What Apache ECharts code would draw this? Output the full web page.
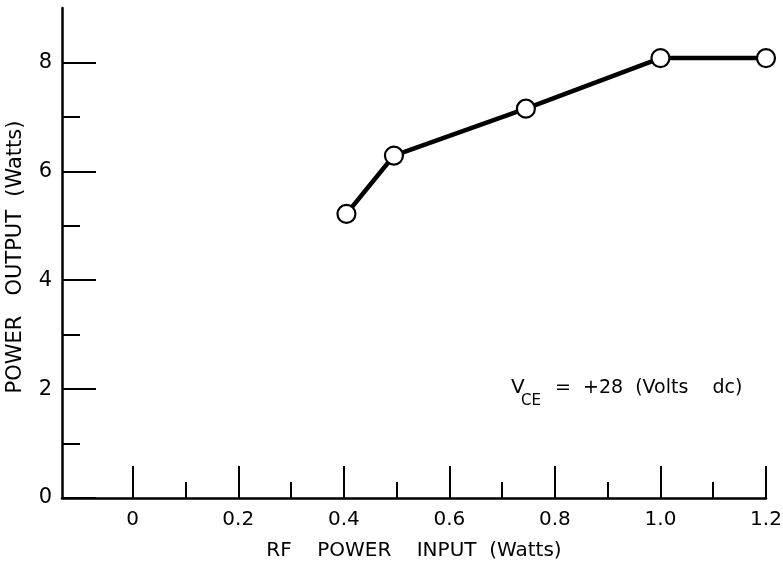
<!DOCTYPE html>
<html><head><meta charset="utf-8">
<script src="https://cdn.jsdelivr.net/npm/echarts@6/dist/echarts.min.js"></script>
<style>html,body{margin:0;padding:0;background:#fff}#c{width:783px;height:568px}</style>
</head><body><div id="c"></div>
<script>
const xValues = [0.405, 0.495, 0.745, 1.0, 1.2];
const yValues = [5.22, 6.29, 7.15, 8.08, 8.08];
const xMajorTicks = [0, 0.2, 0.4, 0.6, 0.8, 1.0, 1.2];
const xMinorTicks = [0.1, 0.3, 0.5, 0.7, 0.9, 1.1];
const xTickLabels = ['0', '0.2', '0.4', '0.6', '0.8', '1.0', '1.2'];
const yMajorTicks = [0, 2, 4, 6, 8];
const yMinorTicks = [1, 3, 5, 7];
const yTickLabels = ['0', '2', '4', '6', '8'];
const xName = 'RF    POWER    INPUT  (Watts)';
const yName = 'POWER   OUTPUT  (Watts)';

const FONT = 'DejaVu Sans';
const INK = '#000';
const chart = echarts.init(document.getElementById('c'), null, {renderer: 'canvas'});
const xMin = -0.134, xMax = 1.2, yMin = 0, yMax = 9;

function labelFor(ticks, labels) {
  return function (v) {
    for (let i = 0; i < ticks.length; i++) if (Math.abs(ticks[i] - v) < 1e-6) return labels[i];
    return '';
  };
}

chart.setOption({
  animation: false,
  backgroundColor: '#fff',
  grid: {left: 62, right: 17, top: 8, bottom: 70, containLabel: false, outerBoundsMode: 'none'},
  graphic: [
    {type: 'text', left: 511, top: 378, style: {text: 'V', fontFamily: FONT, fontSize: 20, fill: INK}},
    {type: 'text', left: 521, top: 394, style: {text: 'CE', fontFamily: FONT, fontSize: 15, fill: INK}},
    {type: 'text', left: 555, top: 379, style: {text: '=  +28  (Volts    dc)', fontFamily: FONT, fontSize: 19, fill: INK}}
  ],
  xAxis: [{
    type: 'value', min: xMin, max: xMax, position: 'bottom',
    name: xName, nameLocation: 'middle', nameGap: 43,
    nameTextStyle: {fontFamily: FONT, fontSize: 20, color: INK},
    axisLine: {show: true, onZero: false, lineStyle: {color: INK, width: 2.5}},
    axisTick: {show: true, inside: true, length: 32, lineStyle: {color: INK, width: 2}, customValues: xMajorTicks},
    axisLabel: {show: true, margin: 12, fontFamily: FONT, fontSize: 20, color: INK, customValues: xMajorTicks, formatter: labelFor(xMajorTicks, xTickLabels)},
    splitLine: {show: false}
  }, {
    type: 'value', min: xMin, max: xMax, position: 'bottom',
    axisLine: {show: false, onZero: false},
    axisTick: {show: true, inside: true, length: 16, lineStyle: {color: INK, width: 2}, customValues: xMinorTicks},
    axisLabel: {show: false},
    splitLine: {show: false}
  }],
  yAxis: [{
    type: 'value', min: yMin, max: yMax, position: 'left',
    name: yName, nameLocation: 'middle', nameGap: 36, nameRotate: 90,
    nameTextStyle: {fontFamily: FONT, fontSize: 21, color: INK, padding: [0, 8, 0, 0]},
    axisLine: {show: true, onZero: false, lineStyle: {color: INK, width: 2.5}},
    axisTick: {show: true, inside: true, length: 34, lineStyle: {color: INK, width: 2}, customValues: yMajorTicks},
    axisLabel: {show: true, margin: 10, fontFamily: FONT, fontSize: 21, color: INK, customValues: yMajorTicks, formatter: labelFor(yMajorTicks, yTickLabels)},
    splitLine: {show: false}
  }, {
    type: 'value', min: yMin, max: yMax, position: 'left',
    axisLine: {show: false, onZero: false},
    axisTick: {show: true, inside: true, length: 18, lineStyle: {color: INK, width: 2}, customValues: yMinorTicks},
    axisLabel: {show: false},
    splitLine: {show: false}
  }],
  series: [{
    type: 'line',
    xAxisIndex: 0, yAxisIndex: 0,
    data: xValues.map((x, i) => [x, yValues[i]]),
    clip: false,
    symbol: 'circle', symbolSize: 18,
    showAllSymbol: true,
    lineStyle: {color: INK, width: 4.5},
    itemStyle: {color: '#fff', borderColor: INK, borderWidth: 2.2},
    z: 5
  }]
});
</script>
</body></html>
